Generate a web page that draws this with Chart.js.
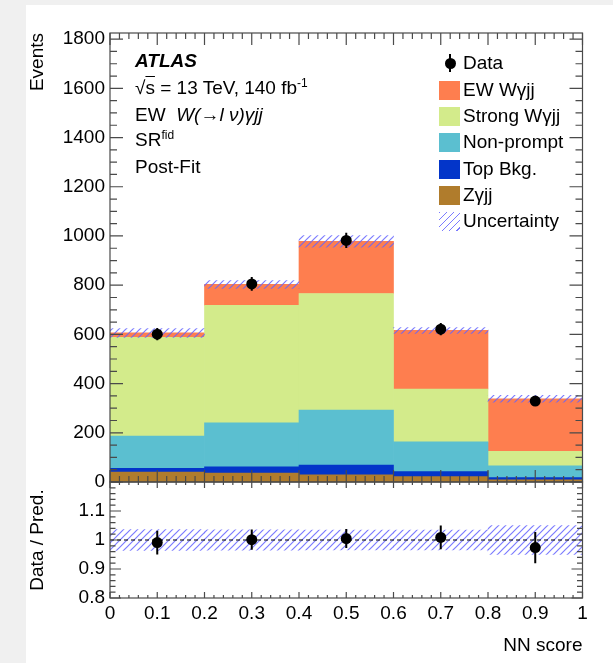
<!DOCTYPE html>
<html>
<head>
<meta charset="utf-8">
<script src="https://cdn.jsdelivr.net/npm/chart.js@4.4.1/dist/chart.umd.min.js"></script>
<style>
  html, body { margin: 0; padding: 0; background: #f0f0f0; }
  #page { position: relative; width: 613px; height: 663px; overflow: hidden;
          font-family: "Liberation Sans", Arial, sans-serif; color: #000; }
  #card { position: absolute; left: 26px; top: 5px; width: 587px; height: 658px; background: #fff; }
  canvas { position: absolute; left: 0; }
  #main { top: 0; }
  #ratio { top: 464px; }
  .note { position: absolute; left: 135px; font-size: 19px; line-height: 22px; white-space: nowrap; }
  .note sup, .leg sup { font-size: 12px; line-height: 0; vertical-align: 7px; }
  .leg { position: absolute; left: 439px; height: 22px; font-size: 19px; line-height: 22px; white-space: nowrap; }
  .leg .sw { position: absolute; left: 0; top: 1.5px; width: 21px; height: 19px; }
  .leg .tx { position: absolute; left: 24px; top: 0; }
  .leg .dot { position: absolute; left: 5.5px; top: 5.5px; width: 11px; height: 11px; border-radius: 50%; background: #000; }
  .leg .bar { position: absolute; left: 10px; top: 2px; width: 2px; height: 18px; background: #000; }
  .hatch { background: repeating-linear-gradient(135deg, rgba(100,100,255,0.85) 0 1.2px, transparent 1.2px 5px); }
</style>
</head>
<body>
<div id="page">
  <div id="card"></div>
  <canvas id="main" width="613" height="500"></canvas>
  <canvas id="ratio" width="613" height="199"></canvas>

  <div class="note" style="top:50px;font-weight:bold;font-style:italic;">ATLAS</div>
  <div class="note" style="top:77px;">√<span style="text-decoration:overline;">s</span> = 13 TeV, 140 fb<sup>-1</sup></div>
  <div class="note" style="top:104px;">EW&nbsp; <i>W(→l ν)γjj</i></div>
  <div class="note" style="top:129px;">SR<sup>fid</sup></div>
  <div class="note" style="top:156px;">Post-Fit</div>

  <div class="leg" style="top:52px;"><span class="bar"></span><span class="dot"></span><span class="tx">Data</span></div>
  <div class="leg" style="top:79px;"><span class="sw" style="background:#fe7e4f;"></span><span class="tx">EW Wγjj</span></div>
  <div class="leg" style="top:105px;"><span class="sw" style="background:#d3eb8b;"></span><span class="tx">Strong Wγjj</span></div>
  <div class="leg" style="top:131px;"><span class="sw" style="background:#5bbfd0;"></span><span class="tx">Non-prompt</span></div>
  <div class="leg" style="top:158px;"><span class="sw" style="background:#0335c9;"></span><span class="tx">Top Bkg.</span></div>
  <div class="leg" style="top:184px;"><span class="sw" style="background:#b07c2c;"></span><span class="tx">Zγjj</span></div>
  <div class="leg" style="top:210px;"><span class="sw hatch"></span><span class="tx">Uncertainty</span></div>
</div>

<script>
// NN score bins: edges and centres (0.2 wide)
const binEdges   = [0, 0.2, 0.4, 0.6, 0.8, 1];
const binCenters = [0.1, 0.3, 0.5, 0.7, 0.9];

// Post-fit stacked predictions, events per bin
const zgjj       = [40, 36, 29, 22, 9];
const topBkg     = [16, 26, 40, 20, 9];
const nonPrompt  = [131, 179, 223, 121, 48];
const strongWgjj = [401, 477, 474, 215, 59];
const ewWgjj     = [18, 85, 212, 238, 213];

// Total prediction and its uncertainty
const predTotal = [606, 803, 978, 616, 338];
const predUnc   = [18, 16, 24, 12, 14];

// Observed data
const dataCounts = [601, 805, 982, 621, 329];
const dataErr    = [25, 28, 31, 25, 18];

// Ratio panel
const ratioVals = [0.991, 1.001, 1.005, 1.009, 0.974];
const ratioErr  = [0.041, 0.035, 0.033, 0.041, 0.054];
const ratioUnc  = [0.036, 0.035, 0.034, 0.034, 0.050];

// Tick labels
const xTicks = [0, 0.1, 0.2, 0.3, 0.4, 0.5, 0.6, 0.7, 0.8, 0.9, 1];
const yTicks = [0, 200, 400, 600, 800, 1000, 1200, 1400, 1600, 1800];
const ratioTicks = [0.8, 0.9, 1.0, 1.1];

const FONT = '"Liberation Sans", Arial, sans-serif';
Chart.defaults.font.family = FONT;
Chart.defaults.font.size = 19;
Chart.defaults.color = '#000';

const HATCH_COLOR = 'rgba(100,100,255,0.85)';
function hatchPattern(ctx) {
  const s = 7;
  const tile = document.createElement('canvas');
  tile.width = s; tile.height = s;
  const g = tile.getContext('2d');
  g.strokeStyle = HATCH_COLOR;
  g.lineWidth = 1.2;
  g.beginPath();
  g.moveTo(0, s); g.lineTo(s, 0);
  g.moveTo(-1, 1); g.lineTo(1, -1);
  g.moveTo(s - 1, s + 1); g.lineTo(s + 1, s - 1);
  g.stroke();
  return ctx.createPattern(tile, 'repeat');
}

const fmt = (v) => String(+Number(v).toFixed(2));
const setTicks = (vals) => (scale) => { scale.ticks = vals.map(v => ({ value: v })); };
const fixWidth = (w) => (scale) => { scale.width = w; };
const fixHeight = (h) => (scale) => { scale.height = h; };

// ROOT-style frame with inward major/minor ticks on all four sides
function drawFrame(chart, yId, t) {
  const { ctx, chartArea: a } = chart;
  const xs = chart.scales.x, ys = chart.scales[yId];
  ctx.save();
  ctx.strokeStyle = '#4a4a4a';
  ctx.lineWidth = 1.2;
  ctx.beginPath();
  const nx = Math.round((xs.max - xs.min) / t.xStep * t.xSub);
  for (let i = 0; i <= nx; i++) {
    const p = xs.getPixelForValue(xs.min + i * t.xStep / t.xSub);
    const len = i % t.xSub === 0 ? t.xMajor : t.xMinor;
    ctx.moveTo(p, a.bottom); ctx.lineTo(p, a.bottom - len);
    ctx.moveTo(p, a.top); ctx.lineTo(p, a.top + len);
  }
  const yMinor = t.yStep / t.ySub;
  for (let i = 0; ; i++) {
    const v = t.yStart + i * yMinor;
    if (v > ys.max + 1e-9) break;
    const p = ys.getPixelForValue(v);
    const len = i % t.ySub === 0 ? t.yMajor : t.yMinor;
    ctx.moveTo(a.left, p); ctx.lineTo(a.left + len, p);
    ctx.moveTo(a.right, p); ctx.lineTo(a.right - len, p);
  }
  ctx.stroke();
  ctx.strokeRect(a.left, a.top, a.right - a.left, a.bottom - a.top);
  ctx.restore();
}

function drawErrorBars(chart, dsIndex, values, errors) {
  const meta = chart.getDatasetMeta(dsIndex);
  const ys = chart.scales[meta.yAxisID];
  const ctx = chart.ctx;
  ctx.save();
  ctx.strokeStyle = '#000';
  ctx.lineWidth = 2;
  ctx.beginPath();
  meta.data.forEach((pt, i) => {
    ctx.moveTo(pt.x, ys.getPixelForValue(values[i] - errors[i]));
    ctx.lineTo(pt.x, ys.getPixelForValue(values[i] + errors[i]));
  });
  ctx.stroke();
  ctx.restore();
}

const pts = (ys) => binCenters.map((x, i) => ({ x, y: ys[i] }));

// main panel: bars span the spacing of the (hidden) bin-edge ticks
const mainBar = { barPercentage: 1, categoryPercentage: 1, borderWidth: 0, grouped: false };
// ratio panel: 'flex' sizes each bar from its neighbouring bins
const ratioBar = { barThickness: 'flex', barPercentage: 1, categoryPercentage: 1, borderWidth: 0 };

function stackSet(label, values, color) {
  return Object.assign({
    type: 'bar', label, data: pts(values), backgroundColor: color, stack: 'mc', order: 2
  }, mainBar);
}

// ---------------- main panel ----------------
const mainCanvas = document.getElementById('main');
const mainCtx = mainCanvas.getContext('2d');

new Chart(mainCtx, {
  type: 'bar',
  data: {
    datasets: [
      {
        type: 'line', label: 'Data', data: pts(dataCounts), showLine: false,
        pointRadius: 5.5, pointBackgroundColor: '#000', pointBorderWidth: 0, order: 0
      },
      Object.assign({
        type: 'bar', label: 'Uncertainty',
        data: binCenters.map((x, i) => ({ x, y: [predTotal[i] - predUnc[i], predTotal[i] + predUnc[i]] })),
        backgroundColor: hatchPattern(mainCtx), stack: 'unc', order: 1
      }, mainBar),
      stackSet('Zγjj', zgjj, '#b07c2c'),
      stackSet('Top Bkg.', topBkg, '#0335c9'),
      stackSet('Non-prompt', nonPrompt, '#5bbfd0'),
      stackSet('Strong Wγjj', strongWgjj, '#d3eb8b'),
      stackSet('EW Wγjj', ewWgjj, '#fe7e4f')
    ]
  },
  options: {
    responsive: false, animation: false, devicePixelRatio: 1, events: [],
    layout: { padding: { left: 0, right: 30.5, top: 33, bottom: 18 } },
    plugins: { legend: { display: false }, tooltip: { enabled: false } },
    scales: {
      x: { type: 'linear', min: 0, max: 1, offset: false, stacked: true, display: false,
           afterBuildTicks: setTicks(binEdges),
           grid: { display: false, offset: false } },
      y: {
        type: 'linear', min: 0, max: 1825, stacked: true,
        afterBuildTicks: setTicks(yTicks), afterFit: fixWidth(110),
        grid: { display: false, drawTicks: false }, border: { display: false },
        ticks: { padding: 5, callback: fmt, font: { size: 19 } },
        title: { display: true, text: 'Events', align: 'end', font: { size: 19 },
                 padding: { top: 26.6, bottom: 0 } }
      }
    }
  },
  plugins: [{
    id: 'mainDecor',
    afterDatasetsDraw(chart) { drawErrorBars(chart, 0, dataCounts, dataErr); },
    afterDraw(chart) {
      drawFrame(chart, 'y', { xStep: 0.1, xSub: 5, xMajor: 12, xMinor: 6,
                              yStart: 0, yStep: 200, ySub: 4, yMajor: 13, yMinor: 7 });
    }
  }]
});

// ---------------- ratio panel ----------------
const ratioCanvas = document.getElementById('ratio');
const ratioCtx = ratioCanvas.getContext('2d');

new Chart(ratioCtx, {
  type: 'bar',
  data: {
    datasets: [
      {
        type: 'line', label: 'Data / Pred.', data: pts(ratioVals), showLine: false,
        pointRadius: 5.5, pointBackgroundColor: '#000', pointBorderWidth: 0, order: 0
      },
      {
        type: 'line', label: 'unity', data: [{ x: 0, y: 1 }, { x: 1, y: 1 }],
        borderColor: '#000', borderWidth: 1.2, borderDash: [4, 3], pointRadius: 0, order: 1
      },
      Object.assign({
        type: 'bar', label: 'Uncertainty',
        data: binCenters.map((x, i) => ({ x, y: [1 - ratioUnc[i], 1 + ratioUnc[i]] })),
        backgroundColor: hatchPattern(ratioCtx), order: 2
      }, ratioBar)
    ]
  },
  options: {
    responsive: false, animation: false, devicePixelRatio: 1, events: [],
    layout: { padding: { left: 0, right: 30.5, top: 18, bottom: 0 } },
    plugins: { legend: { display: false }, tooltip: { enabled: false } },
    scales: {
      x: {
        type: 'linear', min: 0, max: 1, offset: false,
        afterBuildTicks: setTicks(xTicks), afterFit: fixHeight(65),
        grid: { display: false, drawTicks: false, offset: false }, border: { display: false },
        ticks: { padding: 4, callback: fmt, maxRotation: 0, autoSkip: false, font: { size: 19 } },
        title: { display: true, text: 'NN score', align: 'end', font: { size: 19 },
                 padding: { top: 0, bottom: 5.6 } }
      },
      y: {
        type: 'linear', min: 0.8, max: 1.2,
        afterBuildTicks: setTicks(ratioTicks), afterFit: fixWidth(110),
        grid: { display: false, drawTicks: false }, border: { display: false },
        ticks: { padding: 5, callback: fmt, font: { size: 19 } },
        title: { display: true, text: 'Data / Pred.', align: 'center', font: { size: 19 },
                 padding: { top: 26.6, bottom: 0 } }
      }
    }
  },
  plugins: [{
    id: 'ratioDecor',
    afterDatasetsDraw(chart) { drawErrorBars(chart, 0, ratioVals, ratioErr); },
    afterDraw(chart) {
      drawFrame(chart, 'y', { xStep: 0.1, xSub: 5, xMajor: 6, xMinor: 3,
                              yStart: 0.8, yStep: 0.1, ySub: 5, yMajor: 11, yMinor: 5.5 });
    }
  }]
});
</script>
</body>
</html>
